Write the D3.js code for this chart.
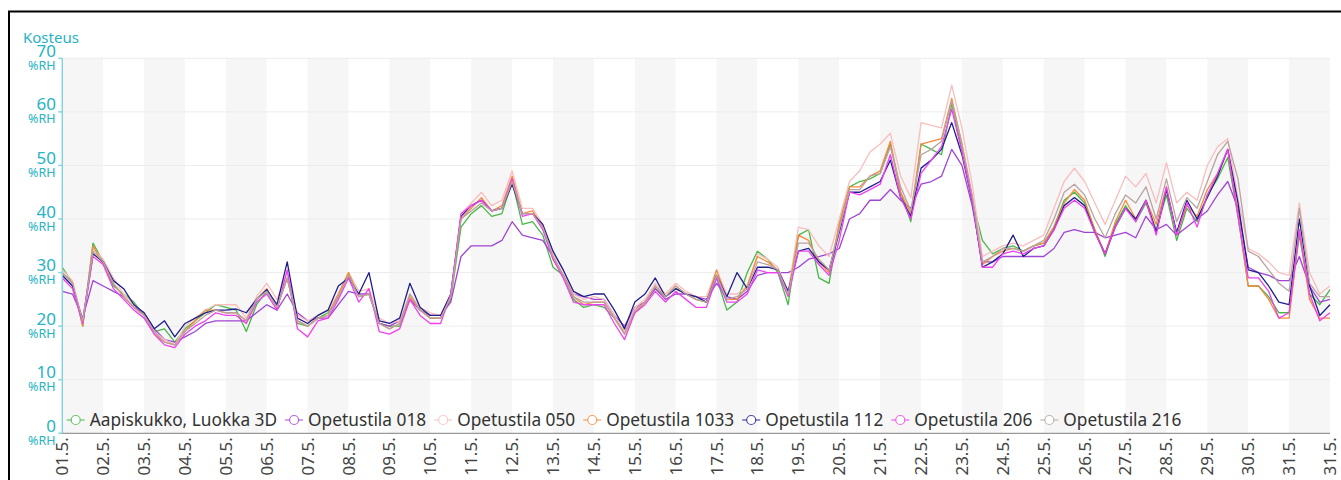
<!DOCTYPE html>
<html>
<head>
<meta charset="utf-8">
<script src="https://cdn.jsdelivr.net/npm/d3@7"></script>
<style>
body { margin: 0; background: #fff; }
svg { display: block; font-family: "Noto Sans", sans-serif; }
</style>
</head>
<body>
<script>

// humidity readings, one value every 6 hours from 01.5. 00:00 to 01.6. 00:00
var aapiskukko = [
  31, 28, 20, 35.5,  32, 27.5, 26, 24.5,  22, 19, 19.5, 17,  19.5, 21, 22.5, 24,
  23.5, 23, 19, 24,  26.5, 23.5, 29, 20.5,  20, 21.5, 22.5, 25.5,  29.5, 25.5, 26, 20.5,
  20, 20, 25, 23,  21.5, 21.5, 25, 38.5,  41, 42.5, 40.5, 41,  47, 39, 39.5, 37,
  31, 29.5, 25, 23.5,  24, 23.5, 21.5, 19,  22.5, 24.5, 27, 25.5,  27, 26, 25, 24.5,
  29, 23, 24.5, 30,  34, 32.5, 30, 24,  37, 38, 29, 28,  39, 46, 47, 47.5,
  48.5, 54, 45, 39.5,  54, 53, 52, 61.5,  53, 43.5, 36, 33.5,  34.5, 35, 34, 35,
  35.5, 38.5, 43.5, 45,  43, 38, 33, 39,  42.5, 39.5, 43, 38,  44.5, 36, 42, 39.5,
  44.5, 47.5, 51.5, 40.5,  27.5, 27.5, 25.5, 22.5,  22.5, 37, 26, 24,  26.8
];
var opetustila018 = [
  26.5, 26, 21.5, 28.5,  27.5, 26.5, 25.5, 23.5,  22.5, 19.5, 17.5, 17,  18, 19, 20.5, 21,
  21, 21, 21, 22.5,  24, 23, 26, 22.5,  21, 21.5, 21.5, 24,  26.5, 26, 26, 20.5,
  20, 21, 25, 23,  22, 22, 24.5, 33,  35, 35, 35, 36,  39.5, 37, 36.5, 36,
  33, 29.5, 26, 25.5,  25, 25, 22, 20,  23.5, 24.5, 27, 25,  26, 26, 25.5, 25,
  28, 25.5, 25, 26.5,  29.5, 30, 30, 30,  31, 32.5, 33, 33.5,  34.5, 40, 41, 43.5,
  43.5, 45.5, 43.5, 42,  46.5, 47, 48, 53,  50, 42.5, 32, 32,  33, 33, 33, 33,
  33, 34.5, 37.5, 38,  37.5, 37.5, 36.5, 37,  37.5, 36.5, 40.5, 38,  39, 37, 38.5, 40,
  41.5, 44.5, 47, 42,  31, 30, 29.5, 28.5,  28.5, 33, 27.5, 24.5,  25
];
var opetustila050 = [
  30.5, 28.5, 21, 34.5,  32.5, 29, 26, 24,  22.5, 19, 17.5, 16.5,  20, 21.5, 23, 24,
  24, 24, 21.5, 25.5,  28, 25, 30, 22,  21, 22, 23, 26,  30, 26.5, 27, 21.5,
  20.5, 21, 26, 23.5,  22.5, 22, 26, 41,  43, 45, 42.5, 43.5,  49, 42, 42, 39,
  33.5, 30.5, 26, 25,  25.5, 25, 22, 19,  23.5, 25, 28, 26,  28, 26.5, 25.5, 25.5,
  30.5, 26, 26, 27.5,  33.5, 32.5, 31, 26.5,  38.5, 38, 35, 33,  40, 47, 49, 52.5,
  54, 56, 48, 44,  58, 57.5, 57, 65,  57, 46.5, 33, 34,  35, 35.5, 35, 36,
  37, 42, 47, 49.5,  47, 43, 39, 43.5,  48, 46, 48.5, 43,  50.5, 43, 45, 43.5,
  50, 53.5, 55, 44,  34.5, 33.5, 32, 30,  29.5, 43, 30, 26,  27.5
];
var opetustila1033 = [
  30, 28, 20, 35,  31.5, 28, 25.5, 23.5,  22, 18.5, 17, 16.5,  19, 21, 23, 23,
  22.5, 22.5, 21, 25,  27, 23.5, 29, 21,  20, 21.5, 22, 26,  30, 25.5, 26, 20.5,
  19.5, 20.5, 25.5, 23,  21.5, 21.5, 25.5, 40,  42, 44, 41.5, 42.5,  48, 41, 41.5, 38.5,
  32.5, 29.5, 25.5, 24,  24.5, 24.5, 21.5, 18.5,  22.5, 24.5, 27.5, 25.5,  27.5, 26, 25, 24.5,
  30.5, 25, 25, 27.5,  33, 32, 30.5, 26,  37, 36, 32, 30,  39, 46, 46, 48,
  49, 54.5, 45, 41,  54, 54.5, 55, 62.5,  54, 44, 31.5, 33,  34, 34.5, 34, 35,
  35.5, 38.5, 43, 45.5,  43.5, 38, 33.5, 39.5,  43.5, 40, 43.5, 39,  46, 37, 42.5, 40.5,
  45.5, 48.5, 53, 41,  27.5, 27.5, 25, 21.5,  21.5, 38, 25, 21.5,  21.5
];
var opetustila112 = [
  29.5, 27.5, 21, 33.5,  32, 28.5, 27, 24,  22.5, 19.5, 21, 18,  20.5, 21.5, 22.5, 23,
  23, 23.2, 22.5, 25,  26.8, 24, 32, 21.5,  20.5, 22, 23, 27.5,  29, 26, 30, 21,
  20.5, 21.5, 28, 23.5,  22, 22, 26, 40.5,  42.5, 43.5, 41.5, 42,  46.5, 41, 41, 39,
  34, 30.5, 26.5, 25.5,  26, 26, 23, 19.5,  24.5, 26, 29, 25.5,  27, 26, 25.5, 24.5,
  29.5, 25.5, 30, 27,  31, 31, 30.5, 26.5,  34, 34.5, 32, 30.5,  37.5, 45, 45, 46,
  47, 51, 44, 40.5,  49.5, 51, 53, 58,  52, 43.5, 31, 32,  33.5, 37, 33, 34.5,
  35, 38, 42.5, 44,  42.5, 37.5, 33.5, 38.5,  42, 40, 43.5, 37.5,  45.5, 37.5, 43.5, 40,
  44, 48, 53, 43,  30.5, 30, 27.5, 24.5,  24, 40, 27.5, 22,  24
];
var opetustila206 = [
  29, 27, 20.5, 33,  31.5, 27, 25, 23,  21.5, 18.5, 16.5, 16,  18.5, 20, 21, 22.5,
  22, 22, 20.5, 24.5,  26, 23, 30.5, 19.5,  18, 21, 21.5, 25,  29, 24.5, 27, 19,
  18.5, 19.5, 25, 22,  20.5, 20.5, 26, 41,  42.5, 43.5, 41.5, 42,  47.5, 40.5, 41, 38,
  32.5, 29, 24.5, 24,  24, 24, 20.5, 17.5,  22.5, 24, 26.5, 24.5,  26.5, 25, 23.5, 23.5,
  29, 24.5, 24.5, 26,  30.5, 30, 30, 25.5,  34, 34, 31.5, 29.5,  36, 45, 44.5, 45.5,
  46.5, 52, 44, 40,  48.5, 51, 53.5, 60.5,  52.5, 43.5, 31, 31,  33.5, 34, 33.5, 34.5,
  35, 38, 42, 43.5,  42, 37.5, 33.5, 38.5,  42, 39.5, 43.5, 37,  46, 37, 43, 38.5,
  44.5, 48.5, 53, 40.5,  29, 29, 26.5, 21.5,  22.5, 38, 26, 21,  22.5
];
var opetustila216 = [
  30, 28, 21, 34,  32, 28, 25.5, 23.5,  22, 19, 17, 16.5,  19, 20.5, 22, 23,
  22.5, 22.5, 21, 25,  26.5, 23.5, 29, 21,  20, 21.5, 22, 25.5,  29.5, 25.5, 26, 20.5,
  19.5, 20.5, 26, 23,  21.5, 21.5, 25.5, 40,  41.5, 43, 41.5, 42,  47, 41, 41, 38.5,
  33, 29.5, 25.5, 24.5,  24.5, 24.5, 21.5, 18.5,  23, 24.5, 27.5, 25.5,  27.5, 26, 25, 24.5,
  29.5, 25, 25.5, 27,  32, 31.5, 30.5, 26,  35.5, 35.5, 32.5, 30.5,  38, 45.5, 45.5, 48,
  48.5, 53.5, 46, 41.5,  52, 53, 54.5, 62,  54, 44.5, 32, 33,  34.5, 34.5, 34, 35,
  36, 40, 45, 46.5,  44.5, 40, 36.5, 41,  44.5, 43, 46, 40,  47.5, 39.5, 44, 42,
  47, 52, 54.5, 47.5,  34, 33, 30.5, 28,  26.5, 42, 28, 25.5,  25.5
];

var seriesNames = ["Aapiskukko, Luokka 3D", "Opetustila 018", "Opetustila 050", "Opetustila 1033",
                   "Opetustila 112", "Opetustila 206", "Opetustila 216"];
var seriesValues = [aapiskukko, opetustila018, opetustila050, opetustila1033,
                    opetustila112, opetustila206, opetustila216];
var seriesColors = ["#46b846", "#a044d4", "#f9bdbd", "#f58a3c", "#1e1e90", "#f040f0", "#b9a2a2"];

var xTickLabels = ["01.5.", "02.5.", "03.5.", "04.5.", "05.5.", "06.5.", "07.5.", "08.5.",
  "09.5.", "10.5.", "11.5.", "12.5.", "13.5.", "14.5.", "15.5.", "16.5.", "17.5.", "18.5.",
  "19.5.", "20.5.", "21.5.", "22.5.", "23.5.", "24.5.", "25.5.", "26.5.", "27.5.", "28.5.",
  "29.5.", "30.5.", "31.5.", "31.5."];
var yTicks = [0, 10, 20, 30, 40, 50, 60, 70];

var width = 1341, height = 480;
var plotLeft = 62.3, plotRight = 1330, plotTop = 58.3, plotBottom = 433.3;
var stepDays = 0.25;   // 6 hour sampling

var svg = d3.select("body").append("svg")
  .attr("width", width)
  .attr("height", height);

var x = d3.scaleLinear().domain([0, 31]).range([plotLeft, plotRight]);
var y = d3.scaleLinear().domain([0, 70]).range([plotBottom, plotTop]);

// alternating day bands
svg.append("g").selectAll("rect")
  .data(d3.range(31))
  .enter().append("rect")
  .attr("x", function(d) { return x(d); })
  .attr("y", plotTop)
  .attr("width", x(1) - x(0))
  .attr("height", plotBottom - plotTop)
  .attr("fill", function(d) { return d % 2 == 0 ? "#f6f6f6" : "#ffffff"; });

// horizontal grid
svg.append("g").selectAll("line")
  .data(yTicks.slice(1))
  .enter().append("line")
  .attr("x1", plotLeft).attr("x2", plotRight)
  .attr("y1", function(d) { return y(d); })
  .attr("y2", function(d) { return y(d); })
  .attr("stroke", "#ececec")
  .attr("stroke-width", 1);

// lines
var line = d3.line()
  .x(function(d, i) { return x(i * stepDays); })
  .y(function(d) { return y(d); });

svg.append("g").selectAll("path")
  .data(seriesValues)
  .enter().append("path")
  .attr("d", line)
  .attr("fill", "none")
  .attr("stroke", function(d, i) { return seriesColors[i]; })
  .attr("stroke-width", 1.3)
  .attr("stroke-linejoin", "round");

// y axis
var yAxis = svg.append("g");
yAxis.append("line")
  .attr("x1", plotLeft).attr("x2", plotLeft)
  .attr("y1", plotTop).attr("y2", plotBottom)
  .attr("stroke", "#86d4dc")
  .attr("stroke-width", 1.5);
var yt = yAxis.selectAll("g.tick")
  .data(yTicks)
  .enter().append("g")
  .attr("class", "tick")
  .attr("transform", function(d) { return "translate(0," + y(d) + ")"; });
yt.append("line")
  .attr("x1", plotLeft - 4).attr("x2", plotLeft)
  .attr("stroke", "#86d4dc")
  .attr("stroke-width", 1.5);
yt.append("text")
  .attr("x", 56).attr("y", -1.5)
  .attr("text-anchor", "end")
  .attr("fill", "#26b3c4")
  .style("font-size", "17px")
  .text(function(d) { return d; });
yt.append("text")
  .attr("x", 55.5).attr("y", 11.5)
  .attr("text-anchor", "end")
  .attr("fill", "#26b3c4")
  .style("font-size", "12.5px")
  .text("%RH");

svg.append("text")
  .attr("x", 23).attr("y", 43)
  .attr("fill", "#26b3c4")
  .style("font-size", "15px")
  .text("Kosteus");

// x axis
svg.append("line")
  .attr("x1", plotLeft).attr("x2", plotRight)
  .attr("y1", plotBottom).attr("y2", plotBottom)
  .attr("stroke", "#808080")
  .attr("stroke-width", 1);

svg.append("g").selectAll("text")
  .data(xTickLabels)
  .enter().append("text")
  .attr("transform", function(d, i) { return "translate(" + x(i) + "," + (plotBottom + 4) + ") rotate(-90)"; })
  .attr("text-anchor", "end")
  .attr("dy", "0.35em")
  .attr("fill", "#444")
  .style("font-size", "17px")
  .text(function(d) { return d; });

// legend
var lx = 66.7, ly = 420;
var legend = svg.append("g");
seriesNames.forEach(function(name, i) {
  var g = legend.append("g").attr("transform", "translate(" + lx + "," + ly + ")");
  g.append("line")
    .attr("x1", 0).attr("x2", 18)
    .attr("stroke", seriesColors[i])
    .attr("stroke-opacity", 0.8)
    .attr("stroke-width", 1.2);
  g.append("circle")
    .attr("cx", 9).attr("r", 4.5)
    .attr("fill", "#fff")
    .attr("stroke", seriesColors[i])
    .attr("stroke-opacity", 0.8)
    .attr("stroke-width", 1.2);
  var t = g.append("text")
    .attr("x", 23).attr("y", 6)
    .attr("fill", "#333")
    .style("font-size", "17.3px")
    .text(name);
  lx += 23 + t.node().getComputedTextLength() + 8;
});

// outer frame
svg.append("rect")
  .attr("x", 9).attr("y", 11.5)
  .attr("width", 1345).attr("height", 480)
  .attr("fill", "none")
  .attr("stroke", "#000")
  .attr("stroke-width", 2);

</script>
</body>
</html>
